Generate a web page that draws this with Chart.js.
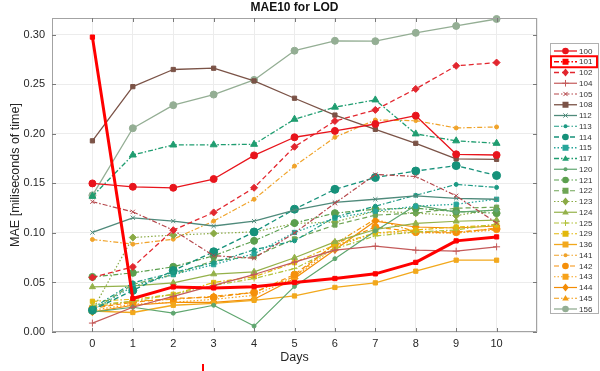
<!DOCTYPE html>
<html><head><meta charset="utf-8">
<script src="https://cdn.jsdelivr.net/npm/chart.js@4.4.0/dist/chart.umd.min.js"></script>
<style>html,body{margin:0;padding:0;background:#fff}#wrap{width:600px;height:371px;position:relative}</style>
</head><body><div id="wrap"><canvas id="c" width="600" height="371"></canvas></div>
<script>
const days = [0,1,2,3,4,5,6,7,8,9,10];
const xTickLabels = ['0','1','2','3','4','5','6','7','8','9','10'];
const yTickLabels = ['0.00','0.05','0.10','0.15','0.20','0.25','0.30'];
const seriesNames = ['100','101','102','104','105','108','112','113','114','115','117','120','121','122','123','124','125','129','136','141','142','143','144','145','156'];

const s100 = [0.150,0.1466,0.1456,0.1544,0.1783,0.1966,0.203,0.210,0.2184,0.1794,0.1787];
const s101 = [0.2977,0.0338,0.0455,0.0445,0.0458,0.0500,0.0540,0.0587,0.0703,0.0920,0.0960];
const s102 = [0.055,0.0657,0.1028,0.1207,0.1456,0.187,0.213,0.2242,0.2454,0.2687,0.272];
const s104 = [0.009,0.025,0.036,0.047,0.058,0.0705,0.0826,0.0866,0.0826,0.0816,0.086];
const s105 = [0.1315,0.1213,0.1028,0.077,0.0745,0.100,0.130,0.159,0.157,0.1375,0.110];
const s108 = [0.193,0.2477,0.265,0.2663,0.2535,0.236,0.219,0.2046,0.1905,0.1748,0.1743];
const s112 = [0.1005,0.1153,0.112,0.107,0.112,0.123,0.1308,0.134,0.1375,0.135,0.134];
const s113 = [0.024,0.0496,0.060,0.070,0.083,0.092,0.116,0.127,0.138,0.149,0.146];
const s114 = [0.022,0.042,0.062,0.081,0.101,0.124,0.144,0.156,0.1625,0.168,0.158];
const s115 = [0.022,0.046,0.058,0.068,0.079,0.1005,0.115,0.122,0.127,0.129,0.134];
const s117 = [0.137,0.1787,0.1888,0.189,0.1895,0.2148,0.227,0.2343,0.200,0.193,0.1905];
const s120 = [0.020,0.025,0.019,0.027,0.006,0.046,0.074,0.102,0.128,0.121,0.123];
const s121 = [0.0556,0.0597,0.0658,0.077,0.092,0.110,0.120,0.124,0.125,0.1216,0.120];
const s122 = [0.022,0.048,0.058,0.072,0.076,0.094,0.108,0.118,0.120,0.125,0.126];
const s123 = [0.022,0.0954,0.0978,0.0995,0.101,0.1096,0.111,0.122,0.120,0.1175,0.124];
const s124 = [0.0455,0.0465,0.0496,0.0585,0.0607,0.075,0.091,0.1035,0.1096,0.1118,0.113];
const s125 = [0.027,0.031,0.038,0.047,0.054,0.064,0.084,0.097,0.101,0.103,0.109];
const s129 = [0.031,0.033,0.038,0.050,0.0557,0.070,0.088,0.100,0.103,0.106,0.108];
const s136 = [0.021,0.0197,0.027,0.029,0.032,0.0364,0.045,0.0496,0.0614,0.0725,0.0725];
const s141 = [0.0934,0.0887,0.0937,0.112,0.134,0.1675,0.1966,0.214,0.2134,0.206,0.207];
const s142 = [0.024,0.030,0.034,0.035,0.040,0.058,0.089,0.106,0.101,0.101,0.104];
const s143 = [0.022,0.028,0.030,0.033,0.037,0.055,0.086,0.100,0.100,0.100,0.103];
const s144 = [0.020,0.027,0.030,0.030,0.033,0.054,0.083,0.112,0.106,0.105,0.107];
const s145 = [0.025,0.031,0.033,0.036,0.040,0.056,0.089,0.114,0.101,0.100,0.105];
const s156 = [0.138,0.2057,0.229,0.2397,0.2545,0.284,0.294,0.2936,0.302,0.309,0.316];

const seriesValues = [s100,s101,s102,s104,s105,s108,s112,s113,s114,s115,s117,s120,s121,s122,s123,s124,s125,s129,s136,s141,s142,s143,s144,s145,s156];

// styles: color, dash, marker, radius, width
const DASH = [5,3], DDOT = [5,2,1.5,2], DOT = [1.5,2];
const styles = {
 '100':['#e8141c',[], 'circle',3.5,1.3],
 '101':['#ff0000',[], 'rect',3,3],
 '102':['#e2262e',DASH,'rectRot',3.5,1.3],
 '104':['#c45a5a',[], 'cross',3.5,1.2],
 '105':['#b5474b',DDOT,'crossRot',3,1.2],
 '108':['#7b5347',[], 'rect',3,1.3],
 '112':['#4f8a7b',[], 'crossRot',3,1.3],
 '113':['#1c9a84',DDOT,'circle',2,1.2],
 '114':['#16917a',DASH,'circle',4,1.3],
 '115':['#26a59a',DOT,'rect',3,1.3],
 '117':['#1f9d70',DDOT,'triangle',4,1.3],
 '120':['#5fa66f',[], 'circle',2,1.2],
 '121':['#5b9f4e',DDOT,'circle',3.5,1.2],
 '122':['#6fa555',DASH,'rect',3,1.2],
 '123':['#8aaa45',DOT,'rectRot',3.5,1.2],
 '124':['#94b14a',[], 'triangle',3.5,1.2],
 '125':['#b2c23a',DDOT,'cross',3,1.2],
 '129':['#e2b80c',DDOT,'rect',3,1.2],
 '136':['#f2a81c',[], 'rect',3,1.3],
 '141':['#f0a32a',DDOT,'circle',2,1.2],
 '142':['#f5900a',DASH,'circle',3.5,1.2],
 '143':['#f7a21a',DOT,'rect',3,1.2],
 '144':['#f38c06',[], 'rectRot',3.5,1.2],
 '145':['#f29a10',DDOT,'triangle',3.5,1.2],
 '156':['#94ae94',[], 'circle',3.5,1.3]
};
const legendDash = {'101':DDOT};

const datasets = seriesNames.map((n,i)=>{
  const st = styles[n];
  return {
    label:n,
    data: days.map((d,j)=>({x:d,y:seriesValues[i][j]})),
    borderColor: st[0], backgroundColor: st[0],
    borderDash: st[1], borderWidth: st[4],
    pointStyle: st[2], pointRadius: st[3], pointBorderWidth: 1,
    pointBackgroundColor: st[0], pointBorderColor: st[0],
    tension:0, clip:false, order: n==='101'?0:1
  };
});

function drawMarker(ctx, style, x, y, r, color){
  ctx.save(); ctx.setLineDash([]); ctx.fillStyle=color; ctx.strokeStyle=color; ctx.lineWidth=1;
  ctx.beginPath();
  if(style==='circle'){ctx.arc(x,y,r,0,Math.PI*2);ctx.fill();}
  else if(style==='rect'){ctx.fillRect(x-r,y-r,2*r,2*r);}
  else if(style==='rectRot'){ctx.moveTo(x,y-r*1.2);ctx.lineTo(x+r,y);ctx.lineTo(x,y+r*1.2);ctx.lineTo(x-r,y);ctx.closePath();ctx.fill();}
  else if(style==='triangle'){ctx.moveTo(x,y-r);ctx.lineTo(x+r,y+r*0.7);ctx.lineTo(x-r,y+r*0.7);ctx.closePath();ctx.fill();}
  else if(style==='cross'){ctx.moveTo(x-r,y);ctx.lineTo(x+r,y);ctx.moveTo(x,y-r);ctx.lineTo(x,y+r);ctx.stroke();}
  else if(style==='crossRot'){ctx.moveTo(x-r*0.7,y-r*0.7);ctx.lineTo(x+r*0.7,y+r*0.7);ctx.moveTo(x+r*0.7,y-r*0.7);ctx.lineTo(x-r*0.7,y+r*0.7);ctx.stroke();}
  ctx.restore();
}

const deco = {
  id:'deco',
  afterDraw(chart){
    const ctx = chart.ctx, a = chart.chartArea, xs = chart.scales.x, ys = chart.scales.y;
    ctx.save();
    // frame
    ctx.strokeStyle='#a3a3a3'; ctx.lineWidth=1; ctx.setLineDash([]);
    ctx.strokeRect(Math.round(a.left)+0.5, Math.round(a.top)+0.5, Math.round(a.right-a.left)-1, Math.round(a.bottom-a.top)-1);
    // inner ticks
    ctx.strokeStyle='#7a7a7a';
    ctx.beginPath();
    days.forEach(d=>{const px=Math.round(xs.getPixelForValue(d))+0.5;
      ctx.moveTo(px,a.top);ctx.lineTo(px,a.top+4);ctx.moveTo(px,a.bottom);ctx.lineTo(px,a.bottom-4);});
    yTickLabels.forEach(t=>{const py=Math.round(ys.getPixelForValue(parseFloat(t)))+0.5;
      ctx.moveTo(a.left,py);ctx.lineTo(a.left+4,py);ctx.moveTo(a.right,py);ctx.lineTo(a.right-4,py);});
    ctx.stroke();
    // titles
    ctx.fillStyle='#111'; ctx.textAlign='center'; ctx.textBaseline='middle';
    ctx.font='bold 12px "Liberation Sans", Arial, sans-serif';
    ctx.fillText('MAE10 for LOD', (a.left+a.right)/2, 8);
    ctx.fillStyle='#262626';
    ctx.font='12.5px "Liberation Sans", Arial, sans-serif';
    ctx.fillText('Days', (a.left+a.right)/2, 358);
    ctx.save(); ctx.translate(16,(a.top+a.bottom)/2); ctx.rotate(-Math.PI/2);
    ctx.fillText('MAE [miliseconds of time]',0,0); ctx.restore();
    // legend
    const lx=550, ly=43, lw=48, lh=270, sp=10.75;
    ctx.fillStyle='#fff'; ctx.fillRect(lx,ly,lw,lh);
    ctx.strokeStyle='#b0b0b0'; ctx.lineWidth=1; ctx.strokeRect(lx+0.5,ly+0.5,lw,lh);
    ctx.font='8px "Liberation Sans", Arial, sans-serif'; ctx.textAlign='left';
    seriesNames.forEach((n,i)=>{
      const st=styles[n]; const y=ly+8+i*sp;
      ctx.save(); ctx.strokeStyle=st[0]; ctx.lineWidth=Math.min(st[4],1.6);
      ctx.setLineDash(legendDash[n]||st[1]);
      ctx.beginPath(); ctx.moveTo(554,y); ctx.lineTo(577,y); ctx.stroke(); ctx.restore();
      drawMarker(ctx, st[2], 565.5, y, Math.min(st[3],3.3), st[0]);
      ctx.fillStyle='#333'; ctx.fillText(n, 579, y+0.5);
    });
    // highlight box around 101
    ctx.strokeStyle='#ff0000'; ctx.lineWidth=2; ctx.setLineDash([]);
    ctx.strokeRect(551,ly+8+sp-5.5,46,11);
    // small red mark at bottom
    ctx.fillStyle='#ff0000'; ctx.fillRect(202,364,2,7);
    ctx.restore();
  }
};

new Chart(document.getElementById('c'), {
  type:'line',
  data:{datasets},
  options:{
    responsive:false, animation:false, devicePixelRatio:1,
    layout:{padding:{left:0,right:63,top:18,bottom:0}},
    plugins:{legend:{display:false},title:{display:false},tooltip:{enabled:false}},
    elements:{line:{borderJoinStyle:'round'}},
    scales:{
      x:{type:'linear',min:-1,max:11,
        afterFit(s){s.height=39;},
        grid:{color:'#ececec',drawTicks:false},border:{display:false},
        ticks:{stepSize:1,padding:5,color:'#262626',font:{size:11,family:'"Liberation Sans", Arial, sans-serif'},
          callback:(v)=> (v>=0&&v<=10)? xTickLabels[v] : ''}},
      y:{type:'linear',min:0,max:0.317,
        afterFit(s){s.width=52;},
        grid:{color:'#ececec',drawTicks:false},border:{display:false},
        ticks:{stepSize:0.05,includeBounds:false,padding:7,color:'#262626',font:{size:11,family:'"Liberation Sans", Arial, sans-serif'},
          callback:(v)=>{const i=Math.round(v/0.05); return Math.abs(v-i*0.05)<1e-6 && yTickLabels[i]? yTickLabels[i] : '';}}}
    }
  },
  plugins:[deco]
});
</script></body></html>
